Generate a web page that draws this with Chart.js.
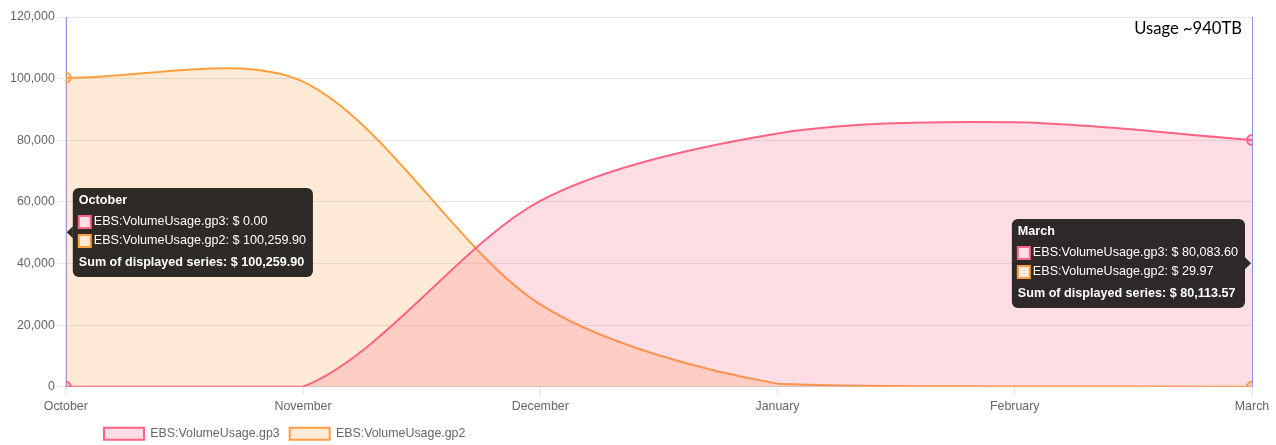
<!DOCTYPE html>
<html>
<head>
<meta charset="utf-8">
<script src="https://cdn.jsdelivr.net/npm/chart.js@4/dist/chart.umd.min.js"></script>
<style>
  html, body { margin: 0; padding: 0; background: #fff; }
  #wrap { width: 1276px; height: 445px; position: relative; }
</style>
</head>
<body>
<div id="wrap"><canvas id="usageChart"></canvas></div>
<script>
// ======================
// DATA
// ======================
const months = ["October", "November", "December", "January", "February", "March"];
const gp3Values = [0, 0, 60300, 82200, 85800, 80083.60];
const gp2Values = [100259.90, 99000, 26700, 1000, 100, 29.97];
const seriesNames = ["EBS:VolumeUsage.gp3", "EBS:VolumeUsage.gp2"];
const yMax = 120000;
const yStep = 20000;
const tooltipMonths = ["October", "March"];
const noteText = "Usage ~940TB";

const FONT = "'Liberation Sans', Arial, sans-serif";
const TIP_SIZE = 12.6;
const PINK = "rgb(255, 99, 132)";
const PINK_FILL = "rgba(255, 99, 132, 0.22)";
const ORANGE = "rgb(255, 159, 64)";
const ORANGE_FILL = "rgba(255, 159, 64, 0.22)";

function money(v) {
  return "$ " + v.toLocaleString("en-US", {
    minimumFractionDigits: 2,
    maximumFractionDigits: 2
  });
}

function edgeRadius(c) {
  return tooltipMonths.includes(months[c.dataIndex]) ? 5 : 0;
}

// ======================
// PLUGINS
// ======================

// legend sits a bit in from the left and closer to the bottom edge
const legendShift = {
  id: "legendShift",
  beforeLayout(chart) {
    const lg = chart.legend;
    if (lg && !lg._trimmed) {
      const fit = lg.fit.bind(lg);
      lg.fit = function () {
        fit();
        this.height -= 5;
      };
      lg._trimmed = true;
    }
  },
  afterLayout(chart) {
    chart.legend.left += 87;
  }
};

const crosshair = {
  id: "crosshair",
  beforeDatasetsDraw(chart) {
    const ctx = chart.ctx;
    const area = chart.chartArea;
    ctx.save();
    ctx.strokeStyle = "rgba(110, 110, 240, 0.75)";
    ctx.lineWidth = 1;
    tooltipMonths.forEach(m => {
      const x = Math.round(chart.scales.x.getPixelForValue(months.indexOf(m))) + 0.5;
      ctx.beginPath();
      ctx.moveTo(x, area.top);
      ctx.lineTo(x, area.bottom);
      ctx.stroke();
    });
    ctx.restore();
  }
};

function roundRect(ctx, x, y, w, h, r) {
  ctx.beginPath();
  ctx.moveTo(x + r, y);
  ctx.lineTo(x + w - r, y);
  ctx.arcTo(x + w, y, x + w, y + r, r);
  ctx.lineTo(x + w, y + h - r);
  ctx.arcTo(x + w, y + h, x + w - r, y + h, r);
  ctx.lineTo(x + r, y + h);
  ctx.arcTo(x, y + h, x, y + h - r, r);
  ctx.lineTo(x, y + r);
  ctx.arcTo(x, y, x + r, y, r);
  ctx.closePath();
}

function drawTip(chart, month) {
  const ctx = chart.ctx;
  const index = months.indexOf(month);
  const sets = chart.data.datasets;
  const x = chart.scales.x.getPixelForValue(index);
  const ys = sets.map(d => chart.scales.y.getPixelForValue(d.data[index]));
  const y = ys.reduce((a, b) => a + b, 0) / ys.length;

  const lines = sets.map(d => d.label + ": " + money(d.data[index]));
  const sum = sets.reduce((a, d) => a + d.data[index], 0);
  const footer = "Sum of displayed series: " + money(sum);
  const bold = "bold " + TIP_SIZE + "px " + FONT;
  const plain = TIP_SIZE + "px " + FONT;

  ctx.save();
  ctx.font = bold;
  let w = Math.max(ctx.measureText(month).width, ctx.measureText(footer).width) + 6;
  ctx.font = plain;
  lines.forEach(l => { w = Math.max(w, ctx.measureText(l).width + 21); });
  w += 7;
  const h = 89;

  const onRight = x + w + 20 < chart.chartArea.right;
  const left = onRight ? x + 7 : x - 7 - w;
  const top = Math.round(y - h / 2);

  ctx.fillStyle = "rgba(0, 0, 0, 0.82)";
  roundRect(ctx, left, top, w, h, 6);
  ctx.fill();
  ctx.beginPath();
  if (onRight) {
    ctx.moveTo(x + 1, y);
    ctx.lineTo(x + 7, y - 6);
    ctx.lineTo(x + 7, y + 6);
  } else {
    ctx.moveTo(x - 1, y);
    ctx.lineTo(x - 7, y - 6);
    ctx.lineTo(x - 7, y + 6);
  }
  ctx.fill();

  ctx.textBaseline = "middle";
  ctx.textAlign = "left";
  ctx.fillStyle = "#fff";
  ctx.font = bold;
  ctx.fillText(month, left + 6, top + 13);

  const rowY = [top + 34, top + 53];
  ctx.font = plain;
  sets.forEach((d, i) => {
    const cy = rowY[i];
    ctx.fillStyle = "#fff";
    ctx.fillRect(left + 6, cy - 6, 12, 12);
    ctx.fillStyle = d.backgroundColor;
    ctx.fillRect(left + 6, cy - 6, 12, 12);
    ctx.strokeStyle = d.borderColor;
    ctx.lineWidth = 2;
    ctx.strokeRect(left + 6, cy - 6, 12, 12);
    ctx.fillStyle = "#fff";
    ctx.fillText(lines[i], left + 21, cy);
  });

  ctx.font = bold;
  ctx.fillText(footer, left + 6, top + 75);
  ctx.restore();
}

const tooltips = {
  id: "pinnedTooltips",
  afterDraw(chart) {
    const ctx = chart.ctx;
    ctx.save();
    ctx.font = "16.6px Lato, 'Open Sans', sans-serif";
    ctx.fillStyle = "#000";
    ctx.textAlign = "right";
    ctx.textBaseline = "middle";
    ctx.fillText(noteText, chart.chartArea.right - 10, chart.chartArea.top + 12);
    ctx.restore();

    tooltipMonths.forEach(m => drawTip(chart, m));
  }
};

// ======================
// CHART
// ======================
Chart.defaults.font.family = FONT;
Chart.defaults.font.size = 12.4;
Chart.defaults.color = "#666";

new Chart(document.getElementById("usageChart").getContext("2d"), {
  type: "line",
  data: {
    labels: months,
    datasets: [
      {
        label: seriesNames[0],
        data: gp3Values,
        borderColor: PINK,
        backgroundColor: PINK_FILL,
        borderWidth: 2,
        fill: "origin",
        tension: 0.3,
        clip: 0,
        pointRadius: edgeRadius,
        pointBorderWidth: 2,
        pointBackgroundColor: PINK_FILL,
        pointBorderColor: PINK
      },
      {
        label: seriesNames[1],
        data: gp2Values,
        borderColor: ORANGE,
        backgroundColor: ORANGE_FILL,
        borderWidth: 2,
        fill: "origin",
        tension: 0.3,
        clip: 0,
        pointRadius: edgeRadius,
        pointBorderWidth: 2,
        pointBackgroundColor: ORANGE_FILL,
        pointBorderColor: ORANGE
      }
    ]
  },
  options: {
    responsive: true,
    maintainAspectRatio: false,
    animation: false,
    layout: {
      padding: { left: 7, right: 24, top: 17, bottom: 0 }
    },
    scales: {
      x: {
        grid: {
          drawOnChartArea: false,
          color: "rgba(0, 0, 0, 0.1)"
        },
        ticks: { autoSkip: false, maxRotation: 0, padding: 4 }
      },
      y: {
        min: 0,
        max: yMax,
        ticks: {
          stepSize: yStep,
          callback: v => v.toLocaleString("en-US")
        },
        grid: { color: "rgba(0, 0, 0, 0.1)" }
      }
    },
    plugins: {
      legend: {
        position: "bottom",
        align: "start",
        labels: { boxWidth: 40, boxHeight: 12, padding: 10 }
      },
      tooltip: { enabled: false }
    }
  },
  plugins: [legendShift, crosshair, tooltips]
});
</script>
</body>
</html>
